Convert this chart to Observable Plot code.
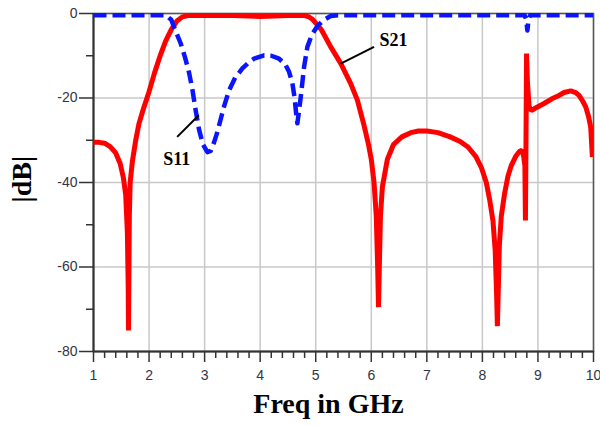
<!DOCTYPE html>
<html><head><meta charset="utf-8">
<script src="https://cdn.jsdelivr.net/npm/d3@7"></script>
<script src="https://cdn.jsdelivr.net/npm/@observablehq/plot@0.6"></script>
<style>body{margin:0;background:#fff} svg{display:block}</style>
</head><body><div id="chart"></div>
<script>
// S21 (red, solid)
const s21Freq = [1.0,1.1,1.2,1.3,1.4,1.48,1.54,1.58,1.61,1.625,1.63,1.635,1.645,1.66,1.7,1.76,1.82,1.9,2.0,2.1,2.2,2.3,2.4,2.5,2.6,2.7,3.0,3.5,4.0,4.5,4.8,4.88,4.95,5.03,5.1,5.27,5.45,5.63,5.75,5.87,5.95,6.0,6.05,6.09,6.115,6.13,6.145,6.165,6.2,6.29,6.4,6.55,6.71,6.85,7.0,7.2,7.42,7.6,7.74,7.88,7.98,8.07,8.13,8.19,8.23,8.255,8.27,8.285,8.305,8.34,8.4,8.46,8.52,8.6,8.67,8.71,8.74,8.765,8.775,8.785,8.795,8.81,8.84,8.88,8.94,9.11,9.25,9.35,9.47,9.59,9.68,9.74,9.8,9.86,9.91,9.95,9.98];
const s21Db   = [-30.5,-30.5,-30.7,-31.5,-33,-35.5,-39,-43,-52,-65,-75,-65,-48,-40,-35,-30,-26,-22.5,-18.5,-14,-10,-6.5,-3.8,-1.8,-0.8,-0.5,-0.5,-0.5,-0.7,-0.5,-0.5,-0.8,-1.5,-2.7,-3.8,-7.9,-11.8,-16.6,-20.5,-26.5,-31,-34.5,-40,-48,-60,-69.5,-60,-48,-41,-34.5,-31,-29.2,-28.2,-27.8,-27.8,-28.2,-29.2,-30.3,-31.6,-33.8,-36.4,-40,-44,-49,-56,-66,-74,-66,-55,-48,-42.6,-38.5,-36,-33.8,-32.6,-32.4,-33.5,-36,-49,-30,-9.5,-16,-22,-23,-22.5,-21.3,-20.2,-19.6,-18.7,-18.3,-18.7,-19.4,-20.6,-22.1,-24.3,-26.9,-34];
// S11 (blue, dashed)
const s11Freq = [1.0,2.3,2.4,2.45,2.57,2.65,2.72,2.78,2.84,2.9,2.97,3.05,3.11,3.17,3.23,3.3,3.35,3.44,3.55,3.68,3.8,3.89,4.07,4.2,4.34,4.45,4.52,4.58,4.62,4.65,4.67,4.7,4.73,4.79,4.85,4.93,5.03,5.15,5.27,5.4,8.76,8.79,8.81,8.83,8.86,10.0];
const s11Db   = [-0.4,-0.4,-1.5,-3.2,-7.1,-10.5,-14,-18,-23,-27.5,-31,-32.8,-32.5,-30.5,-28,-24.5,-22,-18.2,-15.2,-13,-11.5,-10.7,-9.9,-10,-10.7,-12,-13.8,-16.5,-20,-24,-26,-23,-19.8,-12.7,-7.9,-5,-3,-1.5,-0.6,-0.4,-0.4,-1.5,-4,-1.5,-0.4,-0.4];

const xTicks = [1,2,3,4,5,6,7,8,9,10];
const xTickLabels = ["1","2","3","4","5","6","7","8","9","10"];
const yTicks = [-80,-60,-40,-20,0];
const yTickLabels = ["-80","-60","-40","-20","0"];
const yMinorTicks = [-70,-50,-30,-10];
const xMinorTicks = [1.2,1.4,1.6,1.8,2.2,2.4,2.6,2.8,3.2,3.4,3.6,3.8,4.2,4.4,4.6,4.8,5.2,5.4,5.6,5.8,6.2,6.4,6.6,6.8,7.2,7.4,7.6,7.8,8.2,8.4,8.6,8.8,9.2,9.4,9.6,9.8];

// annotations
const labelText = ["S11","S21"];
const labelFreq = [2.50, 6.40];
const labelDb = [-34.5, -6.3];
const leaderFreq1 = [2.506, 5.45];
const leaderDb1 = [-29.2, -11.85];
const leaderFreq2 = [2.896, 6.05];
const leaderDb2 = [-24.1, -7.9];

const xTitle = "Freq in GHz";
const yTitle = "|dB|";

const s21 = s21Freq.map((f, i) => ({f, db: s21Db[i]}));
const s11 = s11Freq.map((f, i) => ({f, db: s11Db[i]}));
const labels = labelText.map((t, i) => ({t, f: labelFreq[i], db: labelDb[i]}));
const leaders = leaderFreq1.map((f, i) => ({f1: f, d1: leaderDb1[i], f2: leaderFreq2[i], d2: leaderDb2[i]}));

const serif = "'Liberation Serif', 'Times New Roman', serif";

const chart = Plot.plot({
  width: 600, height: 426,
  marginLeft: 93, marginRight: 7, marginTop: 13, marginBottom: 75,
  x: {domain: [1, 10]},
  y: {domain: [-80, 0]},
  style: {fontFamily: "'Liberation Sans', Arial, sans-serif", fontSize: "14px", color: "#333344", background: "#fff"},
  marks: [
    Plot.gridX(xTicks, {stroke: "#c8c8c8", strokeOpacity: 1, strokeWidth: 1.5}),
    Plot.gridY(yTicks, {stroke: "#c8c8c8", strokeOpacity: 1, strokeWidth: 1.5}),
    Plot.frame({stroke: "#555", strokeWidth: 1.5}),
    Plot.axisX(xMinorTicks, {tickSize: 7, text: null, stroke: "#333", strokeWidth: 1.5, label: null}),
    Plot.axisX(xTicks, {tickSize: 11, tickPadding: 8, stroke: "#333", strokeWidth: 1.5, label: null,
      tickFormat: d => xTickLabels[xTicks.indexOf(d)]}),
    Plot.axisY(yMinorTicks, {tickSize: 7, text: null, stroke: "#333", strokeWidth: 1.5, label: null}),
    Plot.axisY(yTicks, {tickSize: 14, tickPadding: 2, stroke: "#333", strokeWidth: 1.5, label: null,
      tickFormat: d => yTickLabels[yTicks.indexOf(d)]}),
    Plot.ruleX([1], {stroke: "#333", strokeWidth: 2}),
    Plot.ruleY([-80], {stroke: "#333", strokeWidth: 2}),
    Plot.line(s21, {x: "f", y: "db", stroke: "#ff0000", strokeWidth: 5, strokeLinejoin: "bevel", strokeLinecap: "butt", clip: true}),
    Plot.line(s11, {x: "f", y: "db", stroke: "#0a14ff", strokeWidth: 4.5, strokeDasharray: "13,6", strokeLinecap: "butt", clip: true}),
    Plot.link(leaders, {x1: "f1", y1: "d1", x2: "f2", y2: "d2", stroke: "#000", strokeWidth: 2}),
    Plot.text(labels, {x: "f", y: "db", text: "t", fontFamily: serif, fontWeight: "bold", fontSize: 18, fill: "#000"}),
    Plot.text([xTitle], {frameAnchor: "bottom", dx: -15, dy: 61, fontFamily: serif, fontWeight: "bold", fontSize: 28, fill: "#000"}),
    Plot.text([yTitle], {frameAnchor: "left", rotate: -90, dx: -71, dy: 20, fontFamily: serif, fontWeight: "bold", fontSize: 28, fill: "#000"})
  ]
});
document.getElementById("chart").appendChild(chart);
</script>
</body></html>
